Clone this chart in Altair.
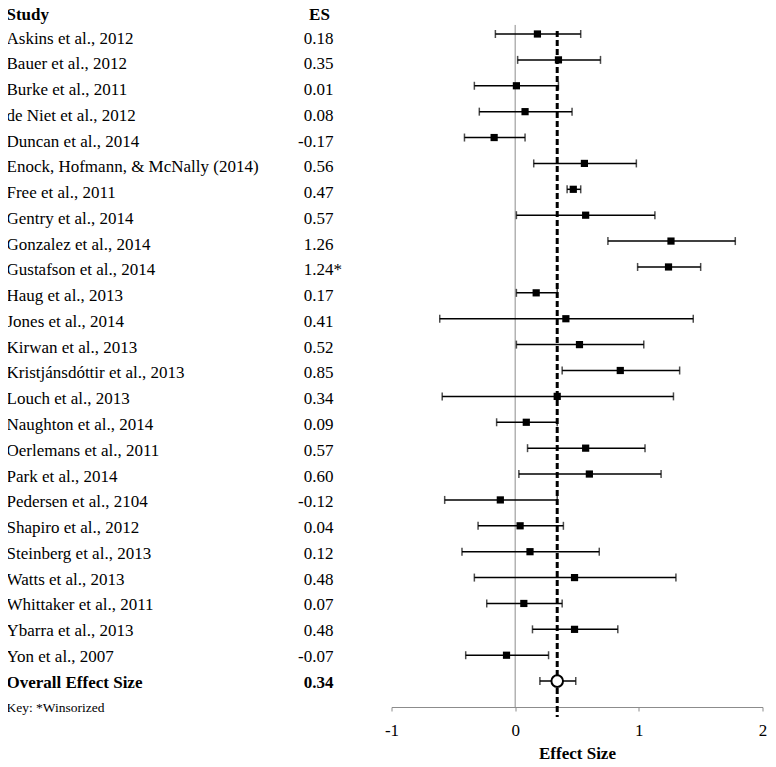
import altair as alt
import pandas as pd

FONT = "Liberation Serif"

studies = [
    "Askins et al., 2012", "Bauer et al., 2012", "Burke et al., 2011",
    "de Niet et al., 2012", "Duncan et al., 2014",
    "Enock, Hofmann, & McNally (2014)", "Free et al., 2011",
    "Gentry et al., 2014", "Gonzalez et al., 2014", "Gustafson et al., 2014",
    "Haug et al., 2013", "Jones et al., 2014", "Kirwan et al., 2013",
    "Kristjánsdóttir et al., 2013", "Louch et al., 2013",
    "Naughton et al., 2014", "Oerlemans et al., 2011", "Park et al., 2014",
    "Pedersen et al., 2104", "Shapiro et al., 2012", "Steinberg et al., 2013",
    "Watts et al., 2013", "Whittaker et al., 2011", "Ybarra et al., 2013",
    "Yon et al., 2007",
]
es = [0.18, 0.35, 0.01, 0.08, -0.17, 0.56, 0.47, 0.57, 1.26, 1.24, 0.17,
      0.41, 0.52, 0.85, 0.34, 0.09, 0.57, 0.60, -0.12, 0.04, 0.12, 0.48,
      0.07, 0.48, -0.07]
es_labels = ["0.18", "0.35", "0.01", "0.08", "-0.17", "0.56", "0.47", "0.57",
             "1.26", "1.24", "0.17", "0.41", "0.52", "0.85", "0.34", "0.09",
             "0.57", "0.60", "-0.12", "0.04", "0.12", "0.48", "0.07", "0.48",
             "-0.07"]
stars = ["", "", "", "", "", "", "", "", "", "*", "", "", "", "", "", "", "",
         "", "", "", "", "", "", "", ""]
ci_lo = [-0.16, 0.02, -0.33, -0.29, -0.41, 0.15, 0.42, 0.01, 0.75, 0.99,
         0.01, -0.61, 0.01, 0.38, -0.59, -0.15, 0.10, 0.03, -0.57, -0.30,
         -0.43, -0.33, -0.23, 0.14, -0.40]
ci_hi = [0.53, 0.69, 0.35, 0.46, 0.08, 0.98, 0.53, 1.13, 1.78, 1.50, 0.34,
         1.44, 1.04, 1.33, 1.28, 0.34, 1.05, 1.18, 0.34, 0.39, 0.68, 1.30,
         0.38, 0.83, 0.27]

overall_label = "Overall Effect Size"
overall_es = 0.34
overall_es_label = "0.34"
overall_lo = 0.20
overall_hi = 0.49

key_text = "Key: *Winsorized"
x_ticks = [-1, 0, 1, 2]

rows = list(range(1, len(studies) + 1))
overall_row = len(studies) + 1
key_row = overall_row + 1

df = pd.DataFrame({"study": studies, "es": es, "label": es_labels,
                   "star": stars, "lo": ci_lo, "hi": ci_hi, "row": rows})
ov = pd.DataFrame({"study": [overall_label], "es": [overall_es],
                   "label": [overall_es_label], "lo": [overall_lo],
                   "hi": [overall_hi], "row": [overall_row]})
hdr = pd.DataFrame({"row": [0.08]})
key = pd.DataFrame({"row": [key_row], "t": [key_text]})

H = 700
NOVIEW = alt.ViewBackground(strokeWidth=0, stroke="transparent")

# ---------- left text table ----------
ly = alt.Y("row:Q", scale=alt.Scale(domain=[-0.231, 26.95], reverse=True), axis=None)
base_l = dict(font=FONT, fontSize=17, color="black", baseline="middle")

names = alt.Chart(df).mark_text(align="left", **base_l).encode(
    x=alt.value(0), y=ly, text="study:N")
vals = alt.Chart(df).mark_text(align="right", **base_l).encode(
    x=alt.value(327), y=ly, text="label:N")
starm = alt.Chart(df).mark_text(align="left", **base_l).encode(
    x=alt.value(327), y=ly, text="star:N")
ov_name = alt.Chart(ov).mark_text(align="left", fontWeight="bold", **base_l).encode(
    x=alt.value(0), y=ly, text="study:N")
ov_val = alt.Chart(ov).mark_text(align="right", fontWeight="bold", **base_l).encode(
    x=alt.value(327), y=ly, text="label:N")
h_study = alt.Chart(hdr).mark_text(align="left", fontWeight="bold", **base_l).encode(
    x=alt.value(0), y=ly, text=alt.value("Study"))
h_es = alt.Chart(hdr).mark_text(align="center", fontWeight="bold", **base_l).encode(
    x=alt.value(313), y=ly, text=alt.value("ES"))
keym = alt.Chart(key).mark_text(align="left", font=FONT, fontSize=13.5,
                                color="black", baseline="middle").encode(
    x=alt.value(0), y=ly, text="t:N")

left = alt.layer(names, vals, starm, ov_name, ov_val, h_study, h_es, keym).properties(
    width=385, height=H, view=NOVIEW)

# ---------- right forest plot ----------
xs = alt.Scale(domain=[-1, 2], nice=False, zero=False)
ysc = alt.Scale(domain=[-0.043, 27], reverse=True)
ry = alt.Y("row:Q", scale=ysc, axis=None)
xax = alt.Axis(values=x_ticks, labelExpr="'' + datum.value", grid=False,
               domainColor="#8c8c8c", tickColor="#8c8c8c", tickSize=4,
               labelFont=FONT, labelFontSize=17, labelColor="black",
               labelPadding=11, title="Effect Size", titleFont=FONT,
               titleFontSize=17, titleFontWeight="bold", titleColor="black",
               titlePadding=7, labelFlush=False)

ref = pd.DataFrame({"x": [0.0], "y1": [0.65], "y2": [27.0]})
dash = pd.DataFrame({"x": [overall_es], "y1": [0.88], "y2": [27.39]})

zero_line = alt.Chart(ref).mark_rule(color="#8c8c8c", strokeWidth=1).encode(
    x=alt.X("x:Q", scale=xs, axis=xax), y=alt.Y("y1:Q", scale=ysc, axis=None), y2="y2:Q")
dash_line = alt.Chart(dash).mark_rule(color="black", strokeWidth=3,
                                      strokeDash=[6, 3]).encode(
    x=alt.X("x:Q", scale=xs), y=alt.Y("y1:Q", scale=ysc, axis=None), y2="y2:Q")

allci = pd.concat([df[["lo", "hi", "es", "row"]], ov[["lo", "hi", "es", "row"]]])
ci = alt.Chart(allci).mark_rule(color="black", strokeWidth=1.5).encode(
    x=alt.X("lo:Q", scale=xs), x2="hi:Q", y=ry)
cap_lo = alt.Chart(allci).mark_tick(color="black", orient="vertical",
                                    size=8, thickness=1.5).encode(
    x=alt.X("lo:Q", scale=xs), y=ry)
cap_hi = alt.Chart(allci).mark_tick(color="black", orient="vertical",
                                    size=8, thickness=1.5).encode(
    x=alt.X("hi:Q", scale=xs), y=ry)
pts = alt.Chart(df).mark_square(color="black", size=52, opacity=1).encode(
    x=alt.X("es:Q", scale=xs), y=ry)
ov_pt = alt.Chart(ov).mark_point(shape="circle", filled=True, fill="white",
                                 stroke="black", strokeWidth=2, size=135,
                                 opacity=1).encode(
    x=alt.X("es:Q", scale=xs), y=ry)

right = alt.layer(zero_line, dash_line, ci, cap_lo, cap_hi, pts, ov_pt).properties(
    width=371, height=H, view=NOVIEW)

chart = alt.hconcat(
    left, right, spacing=0, bounds="flush",
    padding={"left": -1.5, "top": -2, "right": 0, "bottom": 0},
).resolve_scale(y="independent").configure_view(
    strokeWidth=0, stroke="transparent").configure_axis(grid=False).configure(font=FONT)

chart.save("out.html", embed_options={"renderer": "svg", "actions": False})
